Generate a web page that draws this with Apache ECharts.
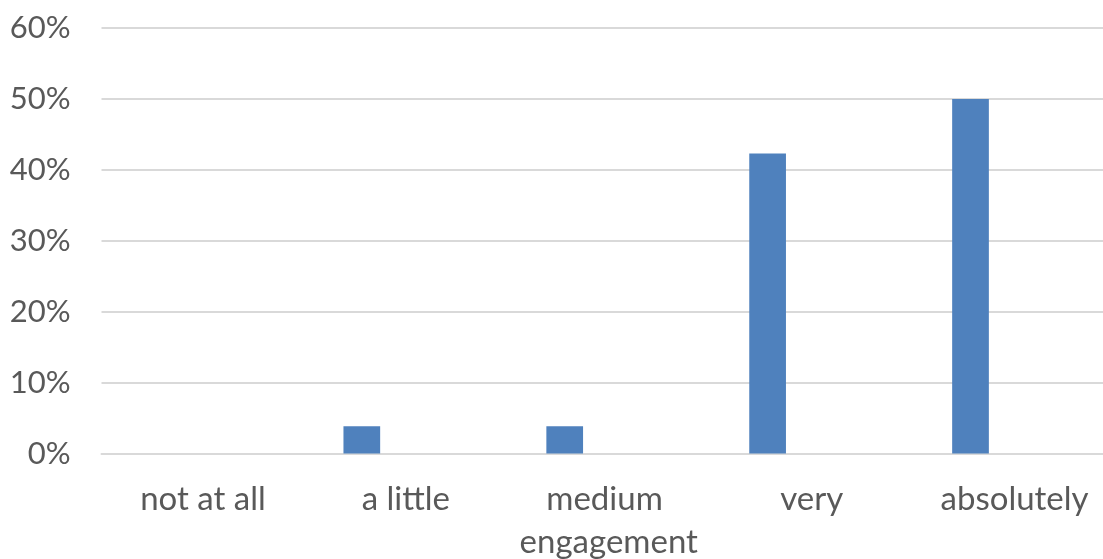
<!DOCTYPE html>
<html>
<head>
<meta charset="utf-8">
<script src="https://cdn.jsdelivr.net/npm/echarts@6/dist/echarts.min.js"></script>
<style>
html,body{margin:0;padding:0;background:#fff;}
#chart{width:1103px;height:559px;}
</style>
</head>
<body>
<div id="chart"></div>
<script>
const categories = ['not at all', 'a little', 'medium engagement', 'very', 'absolutely'];
const shareValues = [0, 3.85, 3.85, 42.3, 50];
const yTicks = [0, 10, 20, 30, 40, 50, 60];

const chart = echarts.init(document.getElementById('chart'));
const font = 'Lato, "Open Sans", sans-serif';
chart.setOption({
  animation: false,
  backgroundColor: '#ffffff',
  grid: { left: 101.5, right: -13, top: 28, bottom: 105.5, containLabel: false, outerBoundsMode: 'none' },
  xAxis: {
    type: 'category',
    data: categories,
    axisLine: { show: true, lineStyle: { color: '#d9d9d9', width: 2 } },
    axisTick: { show: false },
    axisLabel: {
      color: '#595959', fontFamily: font, fontSize: 33, margin: 24,
      lineHeight: 43, width: 200, overflow: 'break', interval: 0
    }
  },
  yAxis: {
    type: 'value',
    min: yTicks[0],
    max: yTicks[yTicks.length - 1],
    interval: 10,
    axisLine: { show: false },
    axisTick: { show: false },
    splitLine: { lineStyle: { color: '#d9d9d9', width: 2 } },
    axisLabel: { color: '#595959', fontFamily: font, fontSize: 31, margin: 31, formatter: '{value}%' }
  },
  series: [
    {
      type: 'bar',
      data: shareValues,
      barWidth: 36.7,
      barGap: '140%',
      itemStyle: { color: '#4f81bd' }
    },
    {
      type: 'bar',
      data: [],
      barWidth: 36.7,
      barGap: '140%'
    }
  ]
});
</script>
</body>
</html>
